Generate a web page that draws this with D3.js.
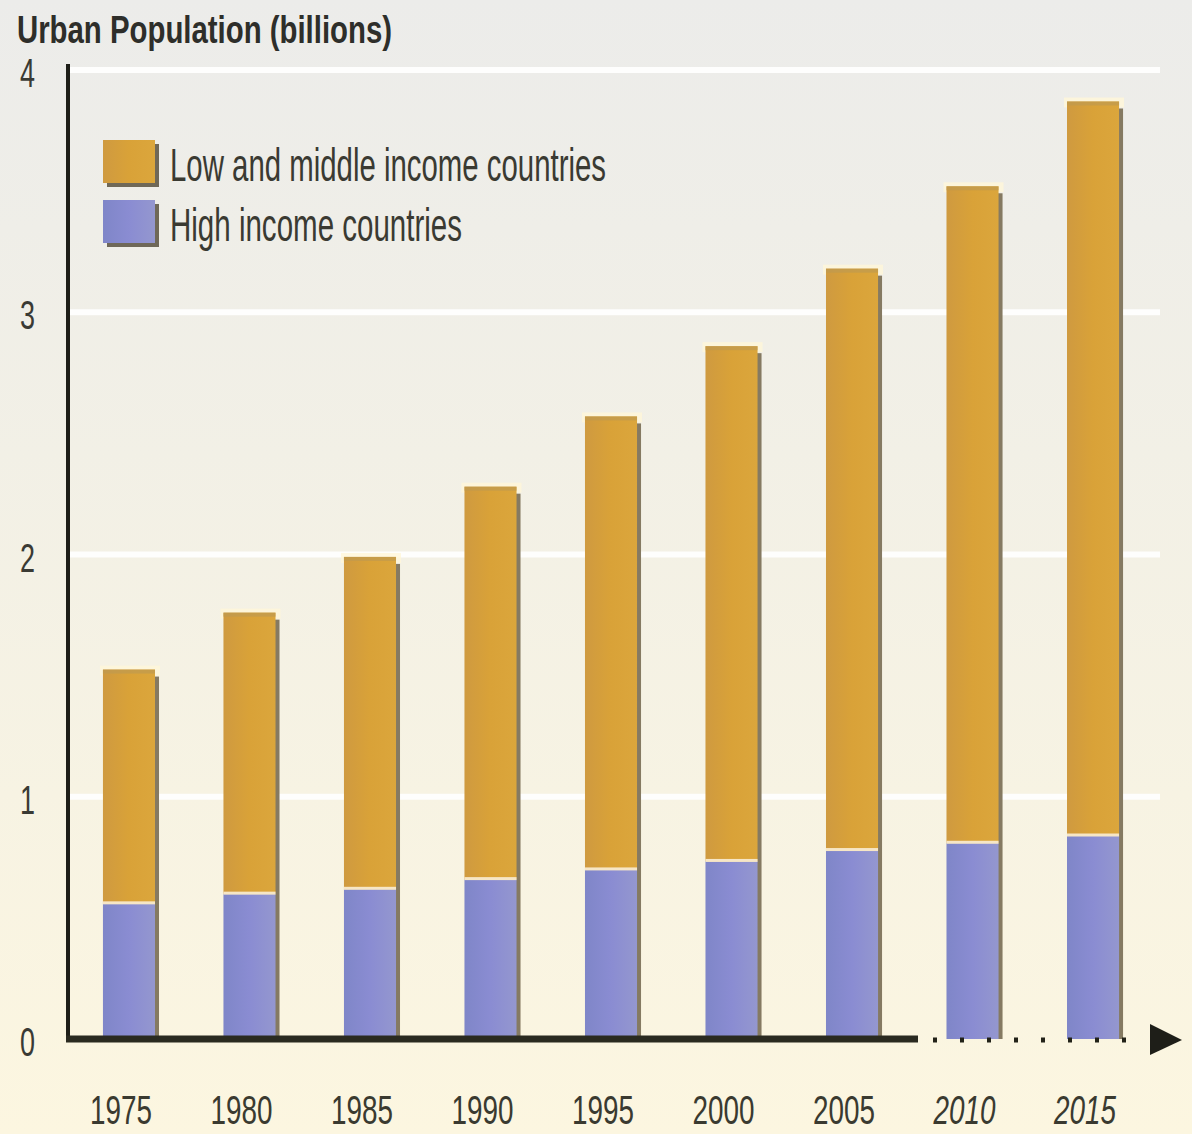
<!DOCTYPE html>
<html>
<head>
<meta charset="utf-8">
<script src="https://cdn.jsdelivr.net/npm/d3@7"></script>
<style>
  html, body { margin: 0; padding: 0; background: #f3f1e8; }
  svg { display: block; }
  text { font-family: "Liberation Sans", Arial, sans-serif; }
</style>
</head>
<body>
<svg id="chart" width="1192" height="1134"></svg>
<script>
// Urban population by income group, billions
const years = ["1975", "1980", "1985", "1990", "1995", "2000", "2005", "2010", "2015"];
const projected = ["2010", "2015"];
const highIncome = [0.56, 0.60, 0.62, 0.66, 0.70, 0.735, 0.78, 0.81, 0.84];
const lowMiddleIncome = [0.965, 1.16, 1.37, 1.62, 1.87, 2.125, 2.40, 2.71, 3.03];
const yTicks = [0, 1, 2, 3, 4];
const seriesNames = ["Low and middle income countries", "High income countries"];

const svg = d3.select("#chart");
const W = 1192, H = 1134;

// background wash: grey at the top fading into cream
const defs = svg.append("defs");
const bg = defs.append("linearGradient").attr("id", "bg").attr("x1", 0).attr("y1", 0).attr("x2", 0).attr("y2", 1);
bg.append("stop").attr("offset", "0%").attr("stop-color", "#ececea");
bg.append("stop").attr("offset", "40%").attr("stop-color", "#f2f0e6");
bg.append("stop").attr("offset", "100%").attr("stop-color", "#fcf6e0");
svg.append("rect").attr("width", W).attr("height", H).attr("fill", "url(#bg)");

const orangeGrad = defs.append("linearGradient").attr("id", "gOrange").attr("x1", 0).attr("x2", 1);
orangeGrad.append("stop").attr("offset", "0%").attr("stop-color", "#cf9a40");
orangeGrad.append("stop").attr("offset", "50%").attr("stop-color", "#d9a238");
orangeGrad.append("stop").attr("offset", "100%").attr("stop-color", "#dba63c");
const blueGrad = defs.append("linearGradient").attr("id", "gBlue").attr("x1", 0).attr("x2", 1);
blueGrad.append("stop").attr("offset", "0%").attr("stop-color", "#7f86c8");
blueGrad.append("stop").attr("offset", "50%").attr("stop-color", "#8a8cd2");
blueGrad.append("stop").attr("offset", "100%").attr("stop-color", "#9497cf");

const x = d3.scaleBand().domain(years).range([68, 1154]).paddingInner(0.568).paddingOuter(0.29);
const y = d3.scaleLinear().domain([0, 4]).range([1039, 70]);

// white gridlines
svg.append("g").selectAll("line").data(yTicks.filter(d => d > 0)).join("line")
  .attr("x1", 70).attr("x2", 1160)
  .attr("y1", d => y(d)).attr("y2", d => y(d))
  .attr("stroke", "#ffffff").attr("stroke-width", 6).attr("opacity", 0.95);

// y tick labels (tall, condensed digits)
svg.append("g").selectAll("text").data(yTicks).join("text")
  .attr("x", 20).attr("y", d => y(d) + 17)
  .attr("font-size", 40).attr("fill", "#3a3a34")
  .attr("textLength", 15).attr("lengthAdjust", "spacingAndGlyphs")
  .text(d => d);

// title
svg.append("text").attr("x", 17).attr("y", 43)
  .attr("font-size", 38).attr("font-weight", "bold").attr("fill", "#2e2e2a")
  .attr("textLength", 375).attr("lengthAdjust", "spacingAndGlyphs")
  .text("Urban Population (billions)");

// stacked bars
const rows = years.map((yr, i) => ({ year: yr, high: highIncome[i], low: lowMiddleIncome[i] }));
const stack = d3.stack().keys(["high", "low"])(rows);
const bw = x.bandwidth();

const bars = svg.append("g");
rows.forEach((r) => {
  const x0 = x(r.year);
  const top = y(r.high + r.low);
  // soft highlight round the top of the column
  bars.append("rect").attr("x", x0 - 3).attr("y", top - 4).attr("width", bw + 8).attr("height", 10)
    .attr("fill", "#fff6d8").attr("opacity", 0.8);
  // drop shadow on the right edge
  bars.append("rect").attr("x", x0 + bw - 1).attr("y", top + 7).attr("width", 5).attr("height", y(0) - top - 7)
    .attr("fill", "#857a62");
});

stack.forEach((layer, li) => {
  bars.append("g").selectAll("rect").data(layer).join("rect")
    .attr("x", d => x(d.data.year))
    .attr("y", d => y(d[1]))
    .attr("width", bw)
    .attr("height", d => y(d[0]) - y(d[1]))
    .attr("fill", li === 0 ? "url(#gBlue)" : "url(#gOrange)");
});

// thin light rule where the two segments meet
bars.append("g").selectAll("rect").data(stack[0]).join("rect")
  .attr("x", d => x(d.data.year)).attr("y", d => y(d[1]) - 2)
  .attr("width", bw).attr("height", 3).attr("fill", "#f6e6c6");

// darker cap on top of each column
bars.append("g").selectAll("rect").data(stack[1]).join("rect")
  .attr("x", d => x(d.data.year)).attr("y", d => y(d[1]))
  .attr("width", bw).attr("height", 4).attr("fill", "#bf9a50").attr("opacity", 0.7);

// axes
svg.append("line").attr("x1", 68).attr("x2", 68).attr("y1", 64).attr("y2", 1042)
  .attr("stroke", "#1e1e18").attr("stroke-width", 4);
svg.append("line").attr("x1", 66).attr("x2", 918).attr("y1", 1039).attr("y2", 1039)
  .attr("stroke", "#2a2a20").attr("stroke-width", 7);
// dotted extension for the projected years
svg.append("line").attr("x1", 933).attr("x2", 1135).attr("y1", 1040).attr("y2", 1040)
  .attr("stroke", "#222218").attr("stroke-width", 5).attr("stroke-dasharray", "4 23");
svg.append("path").attr("d", "M1150,1024 L1182,1040 L1150,1055 Z").attr("fill", "#1e1e18");

// x labels (condensed; projected years in italics)
svg.append("g").selectAll("text").data(years).join("text")
  .attr("x", d => x(d) + bw / 2 - 39).attr("y", 1124)
  .attr("font-size", 40).attr("fill", "#3a3a30")
  .attr("font-style", d => projected.includes(d) ? "italic" : "normal")
  .attr("textLength", 62).attr("lengthAdjust", "spacingAndGlyphs")
  .text(d => d);

// legend
const legend = svg.append("g");
seriesNames.forEach((name, i) => {
  const ly = 140 + i * 60;
  legend.append("rect").attr("x", 107).attr("y", ly + 4).attr("width", 52).attr("height", 43).attr("fill", "#6f6858");
  legend.append("rect").attr("x", 103).attr("y", ly).attr("width", 52).attr("height", 43)
    .attr("fill", i === 0 ? "url(#gOrange)" : "url(#gBlue)");
  legend.append("text").attr("x", 170).attr("y", ly + 41)
    .attr("font-size", 47).attr("fill", "#3a3a32")
    .attr("textLength", i === 0 ? 436 : 292).attr("lengthAdjust", "spacingAndGlyphs")
    .text(name);
});
</script>
</body>
</html>
